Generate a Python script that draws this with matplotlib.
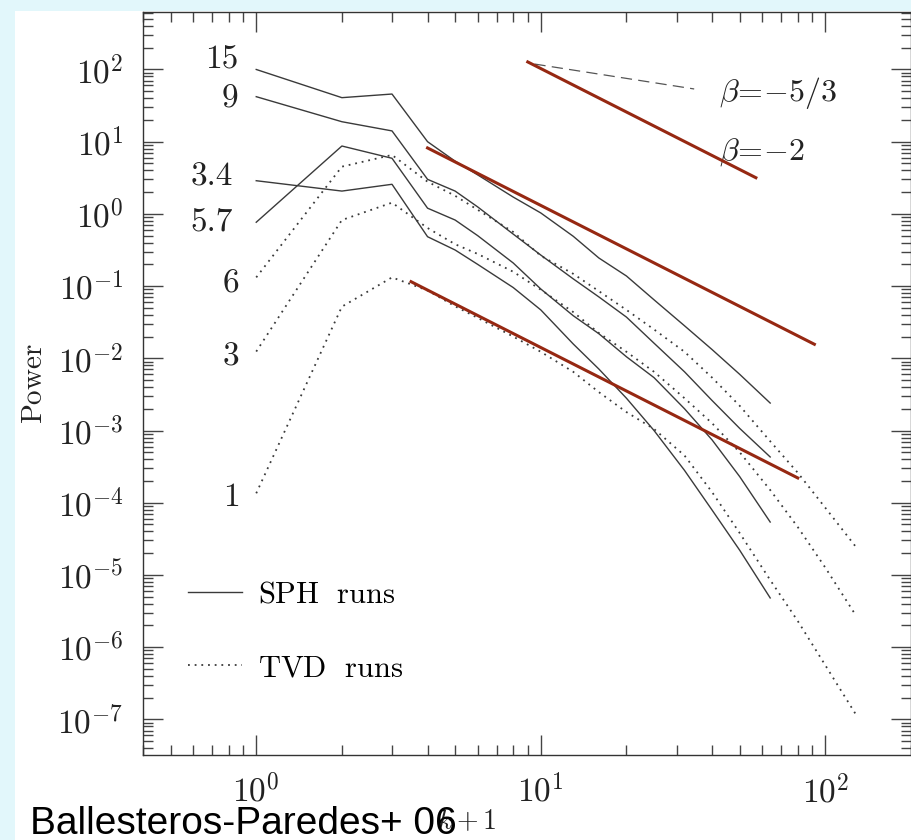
import numpy as np
import matplotlib
matplotlib.use("Agg")
import matplotlib.pyplot as plt
from matplotlib import ticker
from matplotlib.patches import Rectangle
from matplotlib.lines import Line2D

plt.rcParams['mathtext.fontset'] = 'cm'

# wavenumber k+1 sampled for each code
k_sph = [1, 2, 3, 4, 5, 6, 8, 10, 13, 16, 20, 25, 32, 40, 50, 64]
k_tvd = [1, 2, 3, 4, 5, 6, 8, 10, 13, 16, 20, 25, 32, 40, 50, 64, 80, 100, 128]

# SPH runs (solid)
sph_15 = [100, 40.7, 45.7, 10.0, 5.37, 3.47, 1.71, 1.03, 0.49, 0.245, 0.138,
          0.0646, 0.0282, 0.0132, 6.0e-3, 2.4e-3]
sph_9 = [42.0, 18.9, 14.1, 3.01, 2.07, 1.25, 0.525, 0.269, 0.126, 0.0708, 0.0372,
         0.0162, 6.5e-3, 2.6e-3, 1.07e-3, 4.3e-4]
sph_34 = [2.88, 2.07, 2.57, 0.483, 0.316, 0.2, 0.0955, 0.0468, 0.0158, 7.1e-3,
          2.8e-3, 1.0e-3, 2.8e-4, 7.9e-5, 2.2e-5, 4.8e-6]
sph_57 = [0.766, 8.71, 5.89, 1.20, 0.822, 0.50, 0.209, 0.0912, 0.0389, 0.0219,
          0.0105, 5.4e-3, 2.0e-3, 7.4e-4, 2.3e-4, 5.4e-5]

# TVD runs (dotted)
tvd_6 = [0.132, 4.51, 6.55, 2.79, 1.78, 1.14, 0.562, 0.263, 0.148, 0.0851, 0.0468,
         0.0251, 0.0123, 5.4e-3, 2.2e-3, 7.1e-4, 2.6e-4, 8.5e-5, 2.45e-5]
tvd_3 = [0.0124, 0.822, 1.43, 0.638, 0.380, 0.279, 0.158, 0.0891, 0.0437, 0.0224,
         0.0123, 6.5e-3, 2.8e-3, 1.26e-3, 5.0e-4, 1.5e-4, 4.6e-5, 1.26e-5, 2.75e-6]
tvd_1 = [1.35e-4, 0.0519, 0.132, 0.0871, 0.0525, 0.0363, 0.02, 0.0123, 6.5e-3,
         3.4e-3, 1.8e-3, 1.05e-3, 4.5e-4, 1.4e-4, 3.8e-5, 8.5e-6, 2.3e-6, 5.6e-7, 1.17e-7]

sph_names = ['15', '9', '3.4', '5.7']
tvd_names = ['6', '3', '1']

# beta = -2 reference lines: amplitude and k range
ref_amp = [1.03e4, 131, 1.41]
ref_kmin = [9, 4, 3.5]
ref_kmax = [57, 91.5, 80]

# beta = -5/3 key segment
dash_k = [9.5, 34.6]
dash_p = [119, 53.7]

fig = plt.figure(figsize=(9.12, 8.4), dpi=100)
fig.patch.set_facecolor('#e2f7fb')
fig.add_artist(Rectangle((15 / 912, 0), 1, 829 / 840, transform=fig.transFigure,
                         facecolor='white', edgecolor='none', zorder=0))

ax = fig.add_axes([143 / 912, 85 / 840, 768 / 912, 743 / 840])
ax.set_xscale('log')
ax.set_yscale('log')

line_col = '#3a3a3a'
nudge = {'15': 7, '9': -2, '3.4': 3, '5.7': 0, '6': -5, '3': -4, '1': -3}
dx = {'15': -13, '9': -13, '3.4': -17, '5.7': -17, '6': -12, '3': -12, '1': -12}

for name, vals in zip(sph_names, [sph_15, sph_9, sph_34, sph_57]):
    ax.plot(k_sph, vals, color=line_col, lw=1.0)
    ax.annotate(name, xy=(k_sph[0], vals[0]), xytext=(dx[name], nudge[name]),
                textcoords='offset points', ha='right', va='center',
                fontsize=24, family='cmr10', color='#222222')

for name, vals in zip(tvd_names, [tvd_6, tvd_3, tvd_1]):
    ax.plot(k_tvd, vals, color=line_col, lw=1.3, linestyle=(0, (1, 2.7)))
    ax.annotate(name, xy=(k_tvd[0], vals[0]), xytext=(dx[name], nudge[name]),
                textcoords='offset points', ha='right', va='center',
                fontsize=24, family='cmr10', color='#222222')

for amp, k0, k1 in zip(ref_amp, ref_kmin, ref_kmax):
    kk = np.array([k0, k1])
    ax.plot(kk, amp * kk ** -2.0, color='#962812', lw=2.2, zorder=5)

ax.plot(dash_k, dash_p, color='#555555', lw=0.9, linestyle=(0, (9, 5)))
ax.text(42.4, 47.3, r'$\beta\!=\!{-}5/3$', fontsize=23, va='center', ha='left', color='#222222')
ax.text(42.4, 7.2, r'$\beta\!=\!{-}2$', fontsize=23, va='center', ha='left', color='#222222')

handles = [Line2D([], [], color=line_col, lw=1.0),
           Line2D([], [], color=line_col, lw=1.3, linestyle=(0, (1, 2.7)))]
ax.legend(handles, [r'$\mathrm{SPH\ \ runs}$', r'$\mathrm{TVD\ \ runs}$'],
          loc='lower left', bbox_to_anchor=(0.023, 0.061), frameon=False,
          fontsize=22, handlelength=1.76, handletextpad=0.52, labelspacing=1.45)

ax.set_xlim(0.4, 200)
ax.set_ylim(10 ** -7.494, 10 ** 2.796)

fmt = ticker.FuncFormatter(lambda v, pos: r'$10^{%d}$' % int(round(np.log10(v))))
for axis in (ax.xaxis, ax.yaxis):
    axis.set_major_locator(ticker.LogLocator(base=10, numticks=30))
    axis.set_minor_locator(ticker.LogLocator(base=10, subs=np.arange(2, 10), numticks=30))
    axis.set_major_formatter(fmt)
    axis.set_minor_formatter(ticker.NullFormatter())

ax.tick_params(which='both', direction='in', top=True, right=True,
               color='#444444', width=1.0, labelcolor='#222222')
ax.tick_params(which='major', length=14.5, labelsize=24)
ax.tick_params(which='minor', length=7.5)
ax.tick_params(axis='y', which='major', pad=14)
ax.tick_params(axis='x', which='major', pad=14)
for s in ax.spines.values():
    s.set_color('#333333')
    s.set_linewidth(1.0)

ax.set_ylabel(r'$\mathrm{Power}$', fontsize=21, color='#222222')
ax.yaxis.set_label_coords(-0.124, 0.5)
ax.set_xlabel(r'$k+1$', fontsize=20, color='#222222')
ax.xaxis.set_label_coords(0.422, -0.07)

fig.text(30 / 912, 6 / 840, 'Ballesteros-Paredes+ 06', fontsize=28,
         family=['Liberation Sans', 'DejaVu Sans'], color='black',
         ha='left', va='baseline', zorder=10)

fig.savefig('out.png', dpi=100, facecolor=fig.get_facecolor())
